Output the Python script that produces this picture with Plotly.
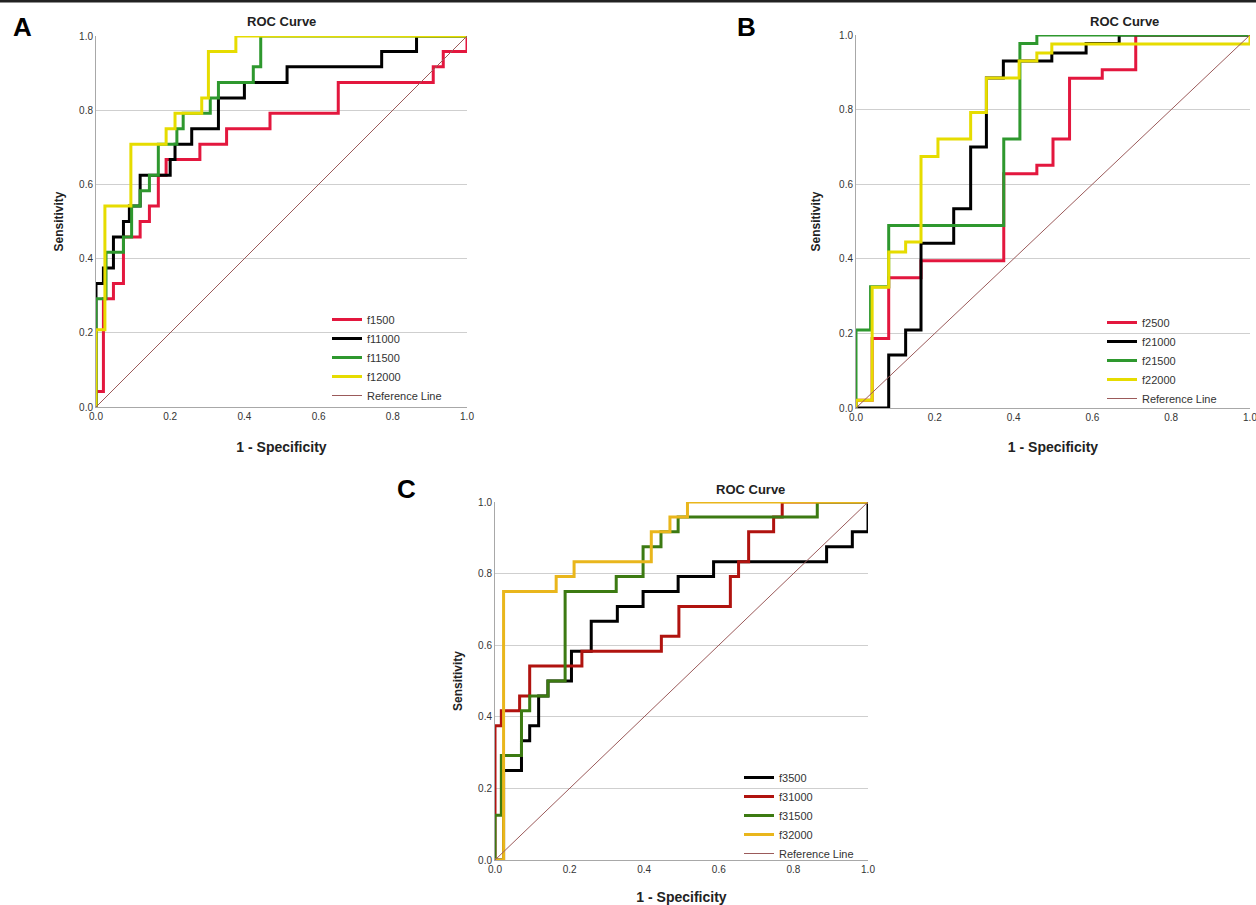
import plotly.graph_objects as go

# ---------------- data (ROC corner points, drawn with 'vh' steps) ----------------
# Panel A
a_names = ["f1500", "f11000", "f11500", "f12000"]
a_f1500_x = [0, 0.02, 0.047, 0.074, 0.119, 0.144, 0.168, 0.189, 0.28, 0.352, 0.469, 0.653, 0.909, 0.936, 1.0, 1.0]
a_f1500_y = [0, 0.042, 0.292, 0.333, 0.458, 0.5, 0.542, 0.625, 0.667, 0.708, 0.75, 0.792, 0.875, 0.917, 0.958, 1.0]
a_f11000_x = [0, 0.02, 0.047, 0.074, 0.09, 0.119, 0.2, 0.213, 0.258, 0.33, 0.4, 0.515, 0.77, 0.864, 1.0]
a_f11000_y = [0, 0.333, 0.375, 0.458, 0.5, 0.542, 0.625, 0.667, 0.708, 0.75, 0.833, 0.875, 0.917, 0.958, 1.0]
a_f11500_x = [0, 0.027, 0.074, 0.096, 0.119, 0.144, 0.168, 0.218, 0.235, 0.308, 0.33, 0.424, 0.444, 1.0]
a_f11500_y = [0, 0.292, 0.417, 0.458, 0.542, 0.583, 0.625, 0.708, 0.75, 0.792, 0.833, 0.875, 0.917, 1.0]
a_f12000_x = [0, 0.024, 0.094, 0.189, 0.213, 0.285, 0.303, 0.377, 1.0]
a_f12000_y = [0, 0.208, 0.542, 0.708, 0.75, 0.792, 0.833, 0.958, 1.0]

# Panel B
b_names = ["f2500", "f21000", "f21500", "f22000"]
b_f2500_x = [0, 0.041, 0.083, 0.165, 0.375, 0.459, 0.5, 0.542, 0.625, 0.71, 1.0]
b_f2500_y = [0, 0.021, 0.186, 0.349, 0.395, 0.628, 0.651, 0.721, 0.884, 0.907, 1.0]
b_f21000_x = [0, 0.083, 0.126, 0.165, 0.248, 0.291, 0.331, 0.374, 0.497, 0.584, 0.668, 1.0]
b_f21000_y = [0, 0, 0.142, 0.209, 0.442, 0.534, 0.7, 0.885, 0.93, 0.952, 0.977, 1.0]
b_f21500_x = [0, 0.037, 0.083, 0.375, 0.416, 0.459, 1.0]
b_f21500_y = [0, 0.209, 0.325, 0.489, 0.721, 0.977, 1.0]
b_f22000_x = [0, 0.041, 0.083, 0.126, 0.165, 0.208, 0.291, 0.331, 0.414, 0.459, 0.497, 1.0, 1.0]
b_f22000_y = [0, 0.021, 0.324, 0.418, 0.445, 0.674, 0.721, 0.792, 0.885, 0.93, 0.952, 0.976, 1.0]

# Panel C
c_names = ["f3500", "f31000", "f31500", "f32000"]
c_f3500_x = [0, 0.023, 0.071, 0.093, 0.117, 0.142, 0.205, 0.258, 0.328, 0.397, 0.491, 0.586, 0.889, 0.958, 1.0, 1.0]
c_f3500_y = [0, 0, 0.25, 0.333, 0.375, 0.458, 0.5, 0.583, 0.667, 0.708, 0.75, 0.792, 0.833, 0.875, 0.917, 1.0]
c_f31000_x = [0, 0.017, 0.066, 0.093, 0.233, 0.446, 0.493, 0.631, 0.653, 0.68, 0.747, 0.77, 1.0]
c_f31000_y = [0, 0.375, 0.417, 0.458, 0.542, 0.583, 0.625, 0.708, 0.792, 0.833, 0.917, 0.958, 1.0]
c_f31500_x = [0, 0.017, 0.071, 0.093, 0.142, 0.188, 0.325, 0.397, 0.445, 0.491, 0.864, 1.0]
c_f31500_y = [0, 0.125, 0.292, 0.417, 0.458, 0.5, 0.75, 0.792, 0.875, 0.917, 0.958, 1.0]
c_f32000_x = [0, 0.023, 0.164, 0.212, 0.419, 0.469, 0.516, 1.0]
c_f32000_y = [0, 0, 0.75, 0.792, 0.833, 0.917, 0.958, 1.0]

ref_x = [0, 1]
ref_y = [0, 1]
tick_vals = [0.0, 0.2, 0.4, 0.6, 0.8, 1.0]
tick_text = ["0.0", "0.2", "0.4", "0.6", "0.8", "1.0"]

# ---------------- styling ----------------
W, H = 1256, 905
FONT = "Liberation Sans, Arial, sans-serif"
REF_COLOR = "#9B5A5A"

panels = [
    dict(key="", names=a_names,
         series=[(a_f1500_x, a_f1500_y), (a_f11000_x, a_f11000_y), (a_f11500_x, a_f11500_y), (a_f12000_x, a_f12000_y)],
         colors=["#E3173E", "#000000", "#2E982E", "#E6DC00"],
         px=(96, 467), py=(36, 407), legend=(327, 305), title_x=281, title_y=22, letter="A", letter_pos=(22, 27),
         xstand=21, ystand=12),
    dict(key="2", names=b_names,
         series=[(b_f2500_x, b_f2500_y), (b_f21000_x, b_f21000_y), (b_f21500_x, b_f21500_y), (b_f22000_x, b_f22000_y)],
         colors=["#E3173E", "#000000", "#2E982E", "#E6DC00"],
         px=(856, 1250), py=(35, 408), legend=(1102, 308), title_x=1124, title_y=22, letter="B", letter_pos=(746, 27),
         xstand=20, ystand=15),
    dict(key="3", names=c_names,
         series=[(c_f3500_x, c_f3500_y), (c_f31000_x, c_f31000_y), (c_f31500_x, c_f31500_y), (c_f32000_x, c_f32000_y)],
         colors=["#000000", "#B0130F", "#3C7A12", "#E9B61C"],
         px=(495, 868), py=(502, 860), legend=(739, 763), title_x=750, title_y=490, letter="C", letter_pos=(406, 489),
         xstand=18, ystand=12),
]

fig = go.Figure()
annotations = []
layout = dict(
    template="none",
    width=W, height=H,
    margin=dict(l=0, r=0, t=0, b=0, pad=0, autoexpand=False),
    paper_bgcolor="white", plot_bgcolor="white",
    font=dict(family=FONT, color="#222"),
)

for i, p in enumerate(panels):
    k = p["key"]
    xa, ya = "x" + k, "y" + k
    leg = "legend" + k
    for (xs, ys), name, col in zip(p["series"], p["names"], p["colors"]):
        fig.add_trace(go.Scatter(x=xs, y=ys, mode="lines", name=name, line=dict(color=col, width=3, shape="vh"),
                                 xaxis=xa, yaxis=ya, legend=leg, hoverinfo="x+y+name"))
    fig.add_trace(go.Scatter(x=ref_x, y=ref_y, mode="lines", name="Reference Line",
                             line=dict(color=REF_COLOR, width=1), xaxis=xa, yaxis=ya, legend=leg))
    x0, x1 = p["px"]
    y0, y1 = p["py"]
    xd = [x0 / W, x1 / W]
    yd = [1 - y1 / H, 1 - y0 / H]
    layout["xaxis" + k] = dict(
        domain=xd, range=[0, 1.0], tickvals=tick_vals, ticktext=tick_text, showgrid=False, zeroline=False,
        showline=True, linecolor="#A8A8A8", linewidth=1, ticks="", automargin=False, ticklabeloverflow="allow",
        tickfont=dict(size=10, color="#333", family=FONT),
        title=dict(text="<b>1 - Specificity</b>", font=dict(size=14, color="#222", family=FONT), standoff=p["xstand"]),
        anchor="y" + k, fixedrange=True,
    )
    layout["yaxis" + k] = dict(
        domain=yd, range=[0, 1.0], tickvals=tick_vals, ticktext=tick_text, showgrid=True, gridcolor="#CFCFCF",
        gridwidth=1, zeroline=False, showline=True, linecolor="#A8A8A8", linewidth=1, ticks="", automargin=False,
        ticklabeloverflow="allow", tickfont=dict(size=10, color="#333", family=FONT),
        title=dict(text="<b>Sensitivity</b>", font=dict(size=12, color="#222", family=FONT), standoff=p["ystand"]),
        anchor="x" + k, fixedrange=True,
    )
    lx, ly = p["legend"]
    layout[leg] = dict(x=lx / W, y=1 - ly / H, xanchor="left", yanchor="top", bgcolor="rgba(0,0,0,0)",
                       borderwidth=0, font=dict(size=11, color="#333", family=FONT), itemwidth=30,
                       tracegroupgap=0)
    annotations.append(dict(text="<b>ROC Curve</b>", x=p["title_x"] / W, y=1 - p["title_y"] / H, xref="paper",
                            yref="paper", showarrow=False, xanchor="center", yanchor="middle",
                            font=dict(size=13, color="#222", family=FONT)))
    annotations.append(dict(text="<b>" + p["letter"] + "</b>", x=p["letter_pos"][0] / W, y=1 - p["letter_pos"][1] / H,
                            xref="paper", yref="paper", showarrow=False, xanchor="center", yanchor="middle",
                            font=dict(size=26, color="#000", family=FONT)))

layout["annotations"] = annotations
layout["showlegend"] = True
layout["shapes"] = [dict(type="line", xref="paper", yref="paper", x0=0, x1=1, y0=1 - 1 / H, y1=1 - 1 / H,
                         line=dict(color="#222", width=3))]
fig.update_layout(**layout)
fig.write_html("out.html", config={"displayModeBar": False},
               post_script="document.body.style.margin='0px';document.body.style.overflow='hidden';")
